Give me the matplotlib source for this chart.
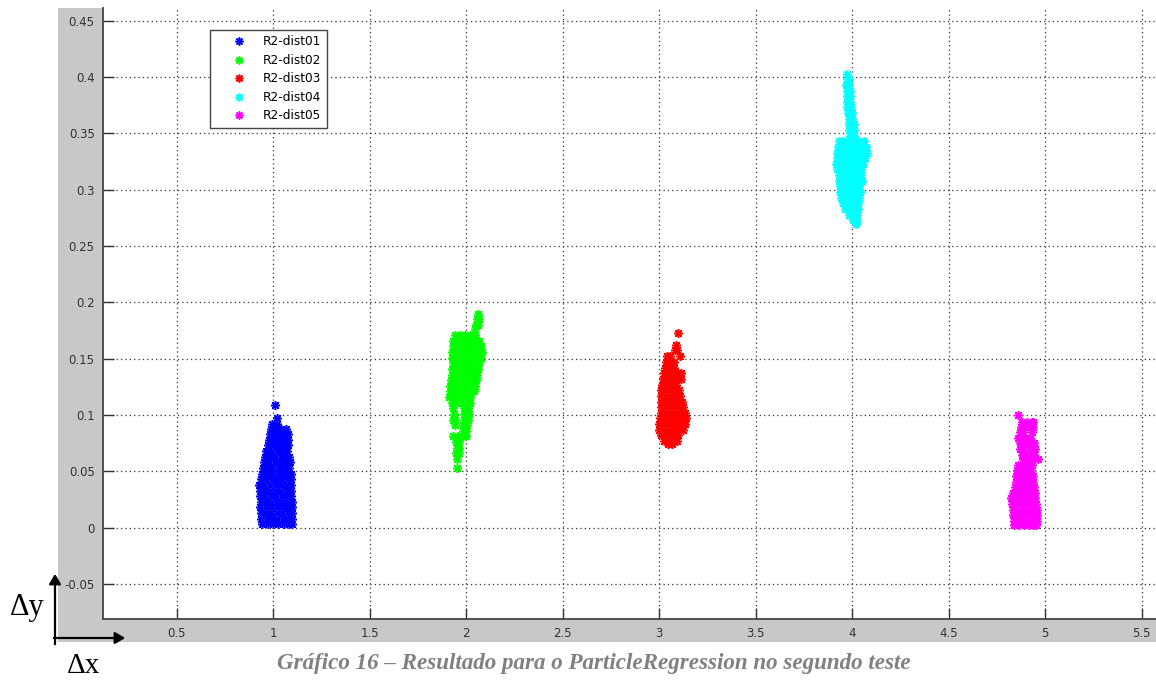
"""Scatter of ParticleRegression results (second test), MATLAB-style screenshot."""
import matplotlib
matplotlib.use("Agg")
import matplotlib.pyplot as plt
from matplotlib.patches import Rectangle, FancyArrowPatch

# cluster points, as {y: [x, ...]}
BLUE = {
    0.003: [0.945, 0.972, 1.000, 1.028, 1.055, 1.083, 1.100],
    0.008: [0.940, 0.968, 0.995, 1.022, 1.050, 1.078, 1.098],
    0.013: [0.938, 0.965, 0.992, 1.020, 1.048, 1.075, 1.100],
    0.018: [0.935, 0.962, 0.990, 1.018, 1.045, 1.072, 1.098],
    0.023: [0.936, 0.964, 0.991, 1.019, 1.047, 1.074, 1.097],
    0.028: [0.934, 0.960, 0.988, 1.016, 1.044, 1.071, 1.095],
    0.033: [0.930, 0.958, 0.986, 1.014, 1.042, 1.070, 1.094],
    0.038: [0.928, 0.955, 0.985, 1.013, 1.041, 1.069, 1.094],
    0.043: [0.938, 0.965, 0.993, 1.021, 1.049, 1.077, 1.093],
    0.048: [0.942, 0.968, 0.996, 1.024, 1.052, 1.080, 1.092],
    0.053: [0.948, 0.975, 1.002, 1.030, 1.058, 1.085],
    0.058: [0.952, 0.980, 1.008, 1.036, 1.064, 1.087],
    0.063: [0.958, 0.985, 1.012, 1.040, 1.068, 1.084],
    0.068: [0.965, 0.990, 1.018, 1.046, 1.072],
    0.073: [0.972, 0.998, 1.025, 1.052, 1.078],
    0.078: [0.980, 1.005, 1.032, 1.058, 1.080],
    0.083: [0.985, 1.010, 1.038, 1.062, 1.075],
    0.088: [0.990, 1.015, 1.042, 1.066],
    0.092: [0.995, 1.020],
    0.097: [1.018],
    0.109: [1.009],
}
GREEN = {
    0.190: [2.060],
    0.185: [2.055, 2.065],
    0.180: [2.050, 2.062],
    0.176: [2.045],
    0.171: [1.945, 1.970, 1.995, 2.020, 2.045],
    0.166: [1.935, 1.960, 1.988, 2.015, 2.042, 2.065],
    0.161: [1.930, 1.955, 1.982, 2.010, 2.038, 2.065, 2.080],
    0.156: [1.928, 1.952, 1.980, 2.008, 2.035, 2.062, 2.082],
    0.151: [1.928, 1.954, 1.981, 2.009, 2.036, 2.063, 2.080],
    0.146: [1.930, 1.956, 1.983, 2.011, 2.038, 2.065],
    0.141: [1.928, 1.953, 1.980, 2.008, 2.035, 2.062],
    0.136: [1.925, 1.950, 1.978, 2.005, 2.032, 2.058],
    0.131: [1.922, 1.948, 1.975, 2.002, 2.030, 2.052],
    0.126: [1.918, 1.945, 1.972, 2.000, 2.028, 2.048],
    0.121: [1.915, 1.942, 1.970, 1.998, 2.025, 2.042],
    0.116: [1.912, 1.940, 1.968, 1.995, 2.020],
    0.111: [1.925, 1.950, 1.985, 2.010, 2.018],
    0.106: [1.935, 1.990, 2.012],
    0.101: [1.938, 1.992, 2.015],
    0.096: [1.932, 1.945, 1.988, 2.010],
    0.091: [1.942, 1.985, 2.005],
    0.086: [1.982, 2.002],
    0.081: [1.935, 1.960, 1.985, 2.000],
    0.076: [1.950, 1.965],
    0.071: [1.955, 1.962],
    0.066: [1.950, 1.965],
    0.061: [1.955],
    0.053: [1.952],
}
RED = {
    0.173: [3.098],
    0.162: [3.090],
    0.158: [3.085, 3.095],
    0.152: [3.040, 3.058, 3.108],
    0.147: [3.035, 3.060, 3.080],
    0.142: [3.030, 3.055, 3.080],
    0.137: [3.025, 3.050, 3.075, 3.100, 3.115],
    0.132: [3.020, 3.045, 3.070, 3.095, 3.112],
    0.127: [3.015, 3.040, 3.065, 3.090],
    0.122: [3.012, 3.038, 3.063, 3.088, 3.105],
    0.117: [3.010, 3.035, 3.060, 3.085, 3.110],
    0.112: [3.008, 3.033, 3.058, 3.083, 3.108, 3.118],
    0.107: [3.008, 3.032, 3.057, 3.082, 3.107, 3.125],
    0.102: [3.008, 3.032, 3.057, 3.082, 3.107, 3.132],
    0.097: [3.005, 3.030, 3.055, 3.080, 3.105, 3.130, 3.140],
    0.092: [3.002, 3.028, 3.053, 3.078, 3.103, 3.128, 3.135],
    0.087: [3.000, 3.025, 3.050, 3.075, 3.100, 3.125],
    0.082: [3.010, 3.035, 3.060, 3.085, 3.100],
    0.077: [3.025, 3.050, 3.075, 3.092],
    0.074: [3.045, 3.068],
}
CYAN = {
    0.403: [3.975],
    0.398: [3.972, 3.982],
    0.393: [3.970, 3.985],
    0.388: [3.972, 3.988],
    0.383: [3.975, 3.990],
    0.378: [3.975, 3.992],
    0.373: [3.975, 3.995],
    0.368: [3.980, 4.000],
    0.363: [3.982, 4.002],
    0.358: [3.985, 4.008],
    0.353: [3.985, 4.010],
    0.348: [3.990, 4.012],
    0.343: [3.930, 3.955, 3.980, 4.005, 4.030, 4.060],
    0.338: [3.925, 3.950, 3.975, 4.000, 4.025, 4.050, 4.072],
    0.333: [3.922, 3.948, 3.973, 3.998, 4.023, 4.048, 4.075],
    0.328: [3.920, 3.945, 3.970, 3.995, 4.020, 4.045, 4.065],
    0.323: [3.915, 3.940, 3.965, 3.990, 4.015, 4.040, 4.058],
    0.318: [3.920, 3.945, 3.970, 3.995, 4.020, 4.045],
    0.313: [3.930, 3.955, 3.980, 4.005, 4.030, 4.045],
    0.308: [3.935, 3.960, 3.985, 4.010, 4.035, 4.050],
    0.303: [3.938, 3.962, 3.987, 4.012, 4.037],
    0.298: [3.940, 3.965, 3.990, 4.015, 4.040],
    0.293: [3.945, 3.970, 3.995, 4.020, 4.035],
    0.288: [3.955, 3.980, 4.005, 4.030],
    0.283: [3.965, 3.990, 4.015, 4.030],
    0.278: [3.985, 4.010, 4.028],
    0.273: [4.005, 4.025],
    0.270: [4.018],
}
MAGENTA = {
    0.100: [4.860],
    0.094: [4.880, 4.905, 4.930, 4.940],
    0.089: [4.875, 4.890, 4.925, 4.940],
    0.085: [4.870, 4.885, 4.930],
    0.080: [4.860, 4.880, 4.900, 4.920],
    0.075: [4.870, 4.890, 4.920, 4.945],
    0.070: [4.870, 4.885, 4.915, 4.940, 4.950],
    0.065: [4.880, 4.905, 4.930, 4.945],
    0.061: [4.885, 4.905, 4.930, 4.965],
    0.056: [4.860, 4.885, 4.910, 4.930],
    0.051: [4.855, 4.880, 4.905, 4.928],
    0.046: [4.852, 4.877, 4.902, 4.925, 4.938],
    0.041: [4.848, 4.872, 4.897, 4.922, 4.940],
    0.036: [4.842, 4.867, 4.892, 4.917, 4.942],
    0.031: [4.835, 4.860, 4.885, 4.910, 4.935, 4.950],
    0.026: [4.822, 4.848, 4.873, 4.898, 4.923, 4.948],
    0.021: [4.830, 4.855, 4.880, 4.905, 4.930, 4.955],
    0.016: [4.832, 4.857, 4.882, 4.907, 4.932, 4.958],
    0.011: [4.835, 4.860, 4.885, 4.910, 4.935, 4.958],
    0.006: [4.838, 4.862, 4.887, 4.912, 4.937, 4.958],
    0.002: [4.840, 4.865, 4.890, 4.915, 4.940, 4.955],
}

SERIES = [BLUE, GREEN, RED, CYAN, MAGENTA]
LABELS = ["R2-dist01", "R2-dist02", "R2-dist03", "R2-dist04", "R2-dist05"]
COLORS = ["#0000ff", "#00ff00", "#ff0000", "#00ffff", "#ff00ff"]

XTICKS = [0.5, 1, 1.5, 2, 2.5, 3, 3.5, 4, 4.5, 5, 5.5]
YTICKS = [-0.05, 0, 0.05, 0.1, 0.15, 0.2, 0.25, 0.3, 0.35, 0.4, 0.45]
CAPTION = "Gráfico 16 – Resultado para o ParticleRegression no segundo teste"

W, H = 1156, 683
fig = plt.figure(figsize=(W / 100, H / 100), dpi=100)
fig.patch.set_facecolor("white")

# grey MATLAB figure background peeking out left and below
fig.patches.append(Rectangle((58 / W, 1 - 642 / H), 1 - 58 / W, (642 - 8) / H,
                             transform=fig.transFigure, facecolor="#c8c8c8",
                             edgecolor="none", zorder=-10))

ax = fig.add_axes([103 / W, 1 - 619 / H, 1 - 103 / W, (619 - 8) / H])
ax.set_zorder(1)
ax.set_facecolor("white")

star = (8, 2, 0)  # MATLAB-like '*' asterisk
for data, label, color in zip(SERIES, LABELS, COLORS):
    xs = [x for y, row in data.items() for x in row]
    ys = [y for y, row in data.items() for _ in row]
    ax.plot(xs, ys, linestyle="none", marker=star, markersize=6.5,
            markeredgewidth=1.1, color=color, label=label)

ax.set_xlim(0.119, 5.575)
ax.set_ylim(-0.081, 0.4613)
ax.set_xticks(XTICKS)
ax.set_xticklabels([f"{t:g}" for t in XTICKS])
ax.set_yticks(YTICKS)
ax.set_yticklabels([f"{t:g}" for t in YTICKS])
ax.tick_params(direction="in", length=8, width=1, colors="#333333",
               labelsize=8.5, pad=6)
ax.grid(True, linestyle=(0, (1, 2.5)), linewidth=0.9, color="#333333")
for side in ("top", "right"):
    ax.spines[side].set_visible(False)
for side in ("left", "bottom"):
    ax.spines[side].set_color("#444444")
    ax.spines[side].set_linewidth(1.3)

leg = ax.legend(loc="upper left", bbox_to_anchor=((210 - 103) / 1053, (619 - 30) / 611),
                borderaxespad=0, fancybox=False, fontsize=8.7, handlelength=3.9,
                handletextpad=0.05, borderpad=0.45, labelspacing=0.45,
                framealpha=1, edgecolor="#444444", markerscale=0.9)
leg.get_frame().set_linewidth(1.0)

# delta axes sketch in the lower-left corner
for start, end in [((55, 647), (55, 571)), ((51, 638), (128, 638))]:
    fig.add_artist(FancyArrowPatch(
        (start[0] / W, 1 - start[1] / H), (end[0] / W, 1 - end[1] / H),
        transform=fig.transFigure, arrowstyle="-|>,head_length=6,head_width=3.5",
        color="black", linewidth=1.6, zorder=5))
fig.text(27 / W, 1 - 607 / H, "Δy", family="Liberation Serif", fontsize=22,
         ha="center", va="center", zorder=5)
fig.text(84 / W, 1 - 666 / H, "Δx", family="Liberation Serif", fontsize=21,
         ha="center", va="center", zorder=5)

fig.text(594 / W, 1 - 663 / H, CAPTION, family="Liberation Serif", fontsize=16.6,
         weight="bold", style="italic", color="#808080", ha="center", va="center")

fig.savefig("out.png", dpi=100)
